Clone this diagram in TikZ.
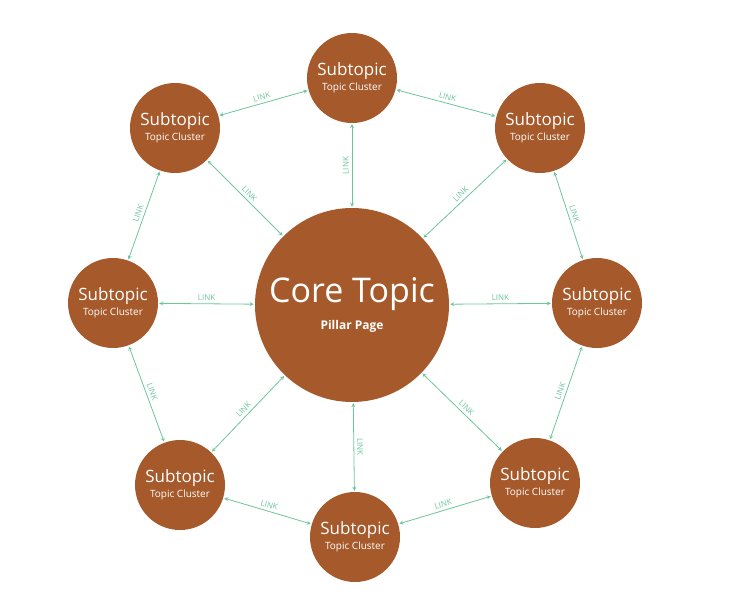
\documentclass[tikz,border=0pt]{standalone}
\usepackage{fontspec}
\setmainfont{Open Sans}
\usetikzlibrary{arrows,positioning,calc}
\definecolor{rust}{HTML}{A65A2B}
\definecolor{linkgreen}{HTML}{6CC59B}
\tikzstyle{core} = [circle,fill=rust,text=white,minimum size=194pt,inner sep=0pt,align=center]
\tikzstyle{sub} = [circle,fill=rust,text=white,minimum size=90pt,inner sep=0pt,align=center]
\tikzstyle{connector} = [<->,>=stealth,linkgreen,line width=0.8pt,shorten <=1pt,shorten >=1pt]
\tikzstyle{lbl} = [midway,above,sloped,text=linkgreen,font=\fontsize{8}{9}\selectfont,inner sep=3pt]
\newcommand{\subtext}{{\fontsize{17}{19}\selectfont Subtopic}\\[3pt]{\fontsize{10}{12}\selectfont Topic Cluster}}
\begin{document}
\begin{tikzpicture}[x=1pt,y=-1pt]
\useasboundingbox (0,0) rectangle (730,596);
  \node[core] (core) at (352,305) {{\fontsize{34}{38}\selectfont Core Topic}\\[8pt]{\fontsize{12}{14}\selectfont\bfseries Pillar Page}};

  \node[sub] (top) at (352,78) {\subtext};
  \node[sub] (topleft) at (175,128) {\subtext};
  \node[sub] (topright) at (540,128) {\subtext};
  \node[sub] (left) at (113,303) {\subtext};
  \node[sub] (right) at (597,303) {\subtext};
  \node[sub] (botleft) at (180,485) {\subtext};
  \node[sub] (bot) at (355,537) {\subtext};
  \node[sub] (botright) at (535,483) {\subtext};

% spokes
\foreach \s in {top,topleft,topright,left,right,botleft,bot,botright}
  \draw [connector] (core) -- (\s) node[lbl] {LINK};

% ring
\draw [connector] (top) -- (topleft) node[lbl] {LINK};
\draw [connector] (top) -- (topright) node[lbl] {LINK};
\draw [connector] (topright) -- (right) node[lbl] {LINK};
\draw [connector] (right) -- (botright) node[lbl] {LINK};
\draw [connector] (botright) -- (bot) node[lbl] {LINK};
\draw [connector] (bot) -- (botleft) node[lbl] {LINK};
\draw [connector] (botleft) -- (left) node[lbl] {LINK};
\draw [connector] (left) -- (topleft) node[lbl] {LINK};
\end{tikzpicture}
\end{document}
